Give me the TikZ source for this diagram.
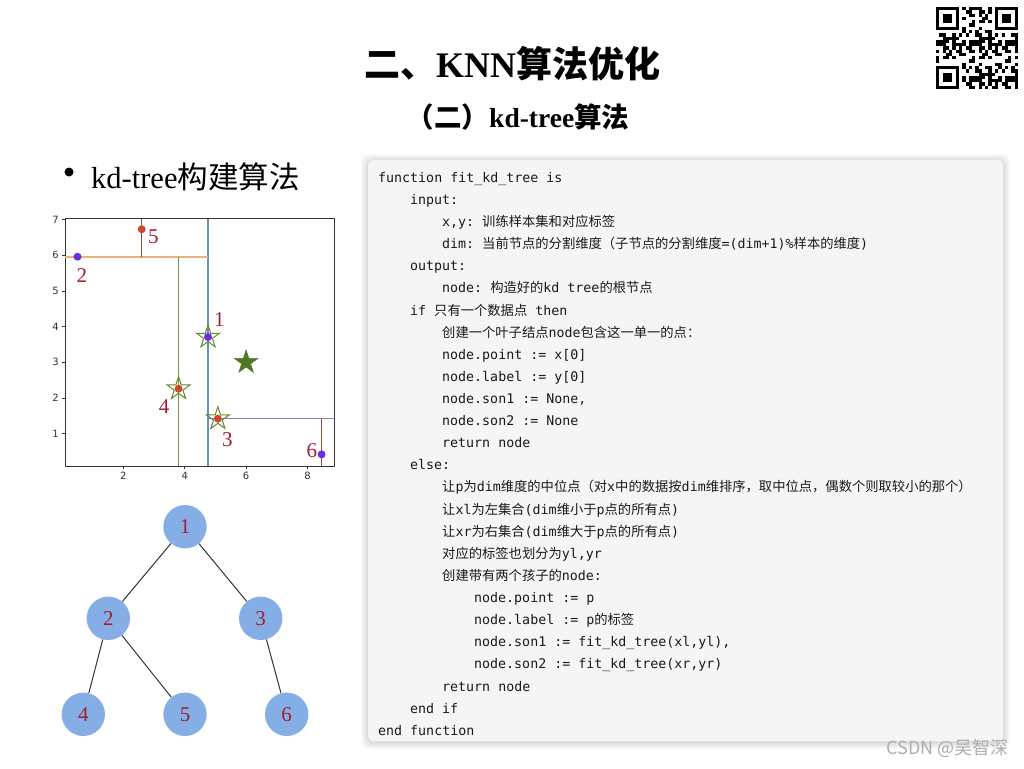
\documentclass[tikz,border=0pt]{standalone}
\usepackage{fontspec}
\setmainfont{Liberation Serif}
\setmonofont{DejaVu Sans Mono}
\newfontfamily\cjk{Noto Sans CJK SC}
\newfontfamily\ticksf{DejaVu Sans}
\usetikzlibrary{shapes}
\definecolor{treeblue}{HTML}{86AEE6}
\definecolor{numred}{HTML}{A31D2C}
\definecolor{dotpurple}{HTML}{6A2FE0}
\definecolor{dotred}{HTML}{CC4A2C}
\definecolor{stargreen}{HTML}{5E8C2E}
\definecolor{splitblue}{HTML}{6C8EC2}
\definecolor{splitorange}{HTML}{E8B27C}
\definecolor{splitgreen}{HTML}{6E9B3C}
\definecolor{splitbrown}{HTML}{8E4B3E}
\definecolor{splitpurple}{HTML}{8E72BA}
\definecolor{codebg}{HTML}{F5F5F5}
\newcommand{\codetab}{\hspace*{32pt}}

\begin{document}
\begin{tikzpicture}[x=1pt,y=-1pt]
\tikzstyle{every node}=[inner sep=0pt]
\tikzstyle{numlbl}=[text=numred, font=\fontsize{21}{21}\selectfont]
\tikzstyle{treenode}=[circle, fill=treeblue, minimum size=43.4pt, numlbl]
\tikzstyle{treeedge}=[draw=black!80, line width=1pt]
\tikzstyle{ptpurple}=[circle, fill=dotpurple, minimum size=8pt]
\tikzstyle{ptred}=[circle, fill=dotred, minimum size=8pt]
\tikzstyle{hollowstar}=[star, star points=5, star point ratio=2.618, draw=stargreen, line width=1pt, minimum size=24pt]
\tikzstyle{fullstar}=[star, star points=5, star point ratio=2.618, draw=stargreen!85!black, fill=stargreen!85!black, minimum size=25pt]
\tikzstyle{ticklbl}=[font=\ticksf\fontsize{10}{10}\selectfont, text=black!80]
\tikzstyle{codetext}=[font=\ttfamily\fontsize{13.3}{22.12}\selectfont, text=black!90, align=left]

\useasboundingbox (0,0) rectangle (1024,768);
\fill[white] (0,0) rectangle (1024,768);

\node[font=\bfseries\fontsize{36}{36}\selectfont] (title) at (512,64) {{\cjk 二、}KNN{\cjk 算法优化}};
\node[font=\bfseries\fontsize{27.5}{27.5}\selectfont] (subtitle) at (518,117) {{\cjk （二）}kd-tree{\cjk 算法}};
\node[circle, fill=black, minimum size=9pt] (bullet) at (69,172) {};
\node[anchor=west, font=\fontsize{30.5}{30.5}\selectfont] (heading) at (91,177) {kd-tree{\cjk 构建算法}};

\begin{scope}[shift={(61.9,469.3)}, x=30.7pt, y=35.67pt]
\draw[black!80, line width=0.8pt] (0.1,0.09) rectangle (8.89,7.02);
\foreach \t in {2,4,6,8}
  \draw[black!80, line width=0.6pt] (\t,0.09) -- ++(0,-3pt) node[below=3pt, ticklbl] {\t};
\foreach \t in {1,...,7}
  \draw[black!80, line width=0.6pt] (0.1,\t) -- ++(-3pt,0) node[left=3pt, ticklbl] {\t};
\draw[splitblue, line width=1.2pt] (4.76,0.09) -- (4.76,7.02);
\draw[splitorange, line width=2.2pt] (0.1,5.96) -- (4.76,5.96);
\draw[splitbrown, line width=1.2pt] (2.6,5.96) -- (2.6,7.02);
\draw[splitgreen, line width=1.2pt] (3.8,0.09) -- (3.8,5.96);
\draw[splitpurple, line width=1.2pt] (4.76,1.42) -- (8.89,1.42);
\draw[splitbrown, line width=1.2pt] (8.46,0.09) -- (8.46,1.42);
\node[ptpurple] (p1) at (4.76,3.71) {};
\node[ptpurple] (p2) at (0.51,5.96) {};
\node[ptred] (p3) at (5.08,1.42) {};
\node[ptred] (p4) at (3.80,2.26) {};
\node[ptred] (p5) at (2.60,6.73) {};
\node[ptpurple] (p6) at (8.46,0.42) {};
\node[hollowstar] (s1) at (p1) {};
\node[hollowstar] (s3) at (p3) {};
\node[hollowstar] (s4) at (p4) {};
\node[fullstar] (query) at (6,3) {};
\node[numlbl] (l1) at (5.13,4.19) {1};
\node[numlbl] (l2) at (0.65,5.43) {2};
\node[numlbl] (l3) at (5.39,0.82) {3};
\node[numlbl] (l4) at (3.33,1.76) {4};
\node[numlbl] (l5) at (2.98,6.52) {5};
\node[numlbl] (l6) at (8.14,0.51) {6};
\end{scope}

\node[treenode] (n1) at (185,526.7) {1};
\node[treenode] (n2) at (108.3,618.3) {2};
\node[treenode] (n3) at (260.7,618.3) {3};
\node[treenode] (n4) at (83.3,714.3) {4};
\node[treenode] (n5) at (185,714.3) {5};
\node[treenode] (n6) at (286.7,714.3) {6};
\foreach \a/\b in {n1/n2, n1/n3, n2/n4, n2/n5, n3/n6}
  \draw[treeedge] (\a) -- (\b);

\foreach \s in {1,...,7}
  \fill[black, opacity=0.018, rounded corners=8pt] (368-\s,160-\s+1) rectangle (1003+\s,741+\s+1);
\node[fill=codebg, rounded corners=5pt, minimum width=635pt, minimum height=581pt, anchor=north west] (codebox) at (368,160) {};
\node[codetext, anchor=north west] (code) at (378,172) {%
function fit\_kd\_tree is\\
\codetab input:\\
\codetab\codetab x,y: {\cjk 训练样本集和对应标签}\\
\codetab\codetab dim: {\cjk 当前节点的分割维度（子节点的分割维度}=(dim+1)\%{\cjk 样本的维度})\\
\codetab output:\\
\codetab\codetab node: {\cjk 构造好的}kd tree{\cjk 的根节点}\\
\codetab if {\cjk 只有一个数据点} then\\
\codetab\codetab {\cjk 创建一个叶子结点}node{\cjk 包含这一单一的点：}\\
\codetab\codetab node.point := x[0]\\
\codetab\codetab node.label := y[0]\\
\codetab\codetab node.son1 := None,\\
\codetab\codetab node.son2 := None\\
\codetab\codetab return node\\
\codetab else:\\
\codetab\codetab {\cjk 让}p{\cjk 为}dim{\cjk 维度的中位点（对}x{\cjk 中的数据按}dim{\cjk 维排序，取中位点，偶数个则取较小的那个）}\\
\codetab\codetab {\cjk 让}xl{\cjk 为左集合}(dim{\cjk 维小于}p{\cjk 点的所有点})\\
\codetab\codetab {\cjk 让}xr{\cjk 为右集合}(dim{\cjk 维大于}p{\cjk 点的所有点})\\
\codetab\codetab {\cjk 对应的标签也划分为}yl,yr\\
\codetab\codetab {\cjk 创建带有两个孩子的}node:\\
\codetab\codetab\codetab node.point := p\\
\codetab\codetab\codetab node.label := p{\cjk 的标签}\\
\codetab\codetab\codetab node.son1 := fit\_kd\_tree(xl,yl),\\
\codetab\codetab\codetab node.son2 := fit\_kd\_tree(xr,yr)\\
\codetab\codetab return node\\
\codetab end if\\
end function};
\node[anchor=east, font=\cjk\fontsize{18}{18}\selectfont, text=black!32] (mark) at (1009,748) {CSDN @吴智深};

\begin{scope}[shift={(936,7)}, x=3.28pt, y=-3.28pt]
\foreach \i in {0,...,24}
  \foreach \j in {0,...,24}{
    \pgfmathtruncatemacro\qrbit{mod(\i*\i*3+\j*\j*5+\i*\j*7+\i+2*\j,11)<5}
    \ifnum\qrbit=1 \fill[black] (\i,\j) rectangle ++(1,1); \fi
  }
\foreach \qx/\qy in {0/0,18/0,0/18}{
  \fill[white] (\qx-1,\qy-1) rectangle ++(9,9);
  \fill[black] (\qx,\qy) rectangle ++(7,7);
  \fill[white] (\qx+1,\qy+1) rectangle ++(5,5);
  \fill[black] (\qx+2,\qy+2) rectangle ++(3,3);
}
\end{scope}
\end{tikzpicture}
\end{document}
